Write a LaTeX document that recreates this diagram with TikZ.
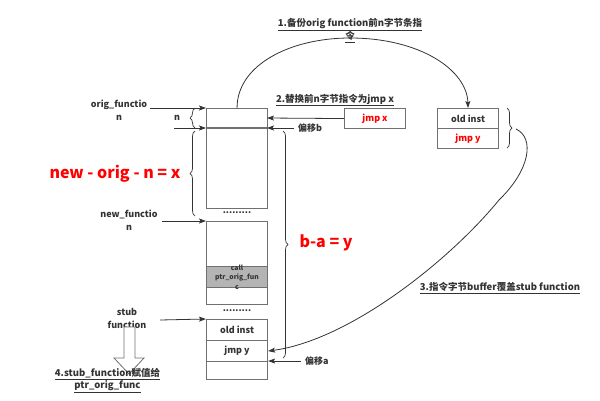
\documentclass[tikz,border=0pt]{standalone}
\usepackage{fontspec}
\setmainfont{Noto Sans CJK SC}
\usetikzlibrary{arrows.meta,decorations.pathreplacing}
\definecolor{txt}{HTML}{333333}
\definecolor{boxline}{HTML}{707070}
\definecolor{callfill}{HTML}{B4B4B4}
\begin{document}
\begin{tikzpicture}[x=1pt,y=-1pt,
  font=\fontsize{9}{13}\selectfont\bfseries,
  every node/.style={text=txt},
  box/.style={draw=boxline,line width=1.1pt,inner sep=0pt,minimum width=61pt,anchor=north west},
  arr/.style={draw=txt,line width=0.8pt,-{Stealth[length=7pt,width=5pt,inset=1.5pt]}},
  ln/.style={draw=txt,line width=0.8pt},
  brc/.style={draw=txt,line width=0.7pt,decorate,decoration={brace,amplitude=5pt}},
  red/.style={text=red,font=\fontsize{16}{18}\selectfont\bfseries},
  lbl/.style={align=center,inner sep=0pt},
  ulbl/.style={lbl,font=\fontsize{9.5}{12.5}\selectfont\bfseries}]
\useasboundingbox (0,0) rectangle (600,400);

% orig function block
\node[box,minimum height=100pt] (ob) at (206,108) {};
\coordinate (obn) at (206,128);
\coordinate (obne) at (267,128);
\draw[boxline,line width=1.1pt] (obn) -- (obne);

% jmp x box
\node[box,minimum height=20pt] (jx) at (344,108) {};
\node[text=red] at (jx.center) {jmp x};

% old inst / jmp y on the right
\node[box,minimum height=20pt] (oi) at (437,108) {old inst};
\node[box,minimum height=20pt] (jy) at (437,128) {};
\node[text=red] at (jy.center) {jmp y};

% new function block
\node at (237,213) {.........};
\node[box,minimum height=45pt] (nb) at (206,221) {};
\node[box,minimum height=21pt,fill=callfill] (cb) at (206,266) {};
\node[box,minimum height=17pt] (nb2) at (206,287) {};
\node[lbl,font=\fontsize{6.8}{9.5}\selectfont\bfseries] (cl) at (237,277) {call\\ptr\_orig\_fun\\c};

% stub function block
\node at (237,311) {.........};
\node[box,minimum height=21pt] (s1) at (206,319) {old inst};
\node[box,minimum height=21pt] (s2) at (206,340) {jmp y};
\node[box,minimum height=18pt] (s3) at (206,361) {};

% left labels
\node[lbl] (lof) at (119,110) {orig\_functio\\n};
\draw[arr] (150,108) -- (ob.north west);
\node (ln) at (177,118) {n};
\coordinate (nleft) at (174,128);
\draw[arr] (nleft) -- (obn);
\draw[brc] (195,128) -- (195,108);

\node[red,anchor=east] (x) at (184,174) {new - orig - n = x};
\draw[brc] (195,216) -- (195,131);

\node[lbl] (lnf) at (129,220) {new\_functio\\n};
\draw[arr] (162,221) -- (nb.north west);

\node[lbl] (lsf) at (127,318) {stub\\function};
\draw[arr] (160,320) -- (s1.north west);

% hollow arrow
\draw[boxline,line width=0.8pt,fill=white] (124,327) -- (135,327) -- (135,358) -- (144,358) -- (129,374) -- (114,358) -- (124,358) -- cycle;
\node[ulbl] (l4) at (107.5,380.5) {\underline{4.stub\_function赋值给}\\\underline{ptr\_orig\_func}};

% right side of orig
\node[anchor=west,inner sep=0pt] (ob2) at (298,128) {偏移b};
\draw[arr] (ob2.west) ++(-4,0) -- (obne);
\draw[arr] (jx.west) -- (267,118);
\node[ulbl] (l2) at (335,100) {\underline{2.替换前n字节指令为jmp x}};

\draw[brc] (283,131) -- (283,358);
\node[red,anchor=west] (y) at (296,243) {b-a = y};

\node[anchor=west,inner sep=0pt] (oa) at (305,361) {偏移a};
\draw[arr] (oa.west) ++(-4,0) -- (s3.north east);

% brace near old inst
\draw[brc] (507,108) -- (507,148);

% curve 1
\node[ulbl] (l1) at (350,30.5) {\underline{1.备份orig function前n字节条指}\\\underline{令}};
\draw[arr] (ob.north) .. controls (237,65) and (290,38) .. (350,38) .. controls (420,38) and (467,70) .. (oi.north);

% curve 3
\draw[arr] (516,129) .. controls (535,138) and (530,170) .. (499,200) .. controls (450,260) and (350,340) .. (s2.east);
\node[ulbl] (l3) at (500,288) {\underline{3.指令字节buffer覆盖stub function}};
\end{tikzpicture}
\end{document}
